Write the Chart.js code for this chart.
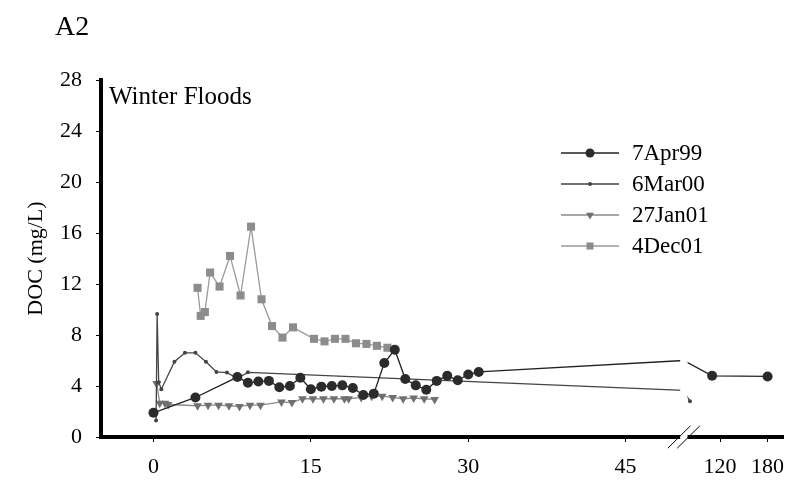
<!DOCTYPE html>
<html>
<head>
<meta charset="utf-8">
<title>DOC - Winter Floods</title>
<script src="https://cdn.jsdelivr.net/npm/chart.js@4.4.1/dist/chart.umd.min.js"></script>
<style>
    html, body { margin: 0; padding: 0; background: #fff; }
</style>
</head>
<body>
<canvas id="docChart" width="789" height="482"></canvas>
<script>
// days since the start of each flood, DOC in mg/L
const apr99Days = [0, 4, 8, 9, 10, 11, 12, 13, 14, 15, 16, 17, 18, 19, 20, 21, 22, 23, 24, 25, 26, 27, 28, 29, 30, 31, 74, 110, 180];
const apr99Doc = [1.9, 3.1, 4.7, 4.25, 4.35, 4.4, 3.9, 4.0, 4.65, 3.75, 3.95, 4.0, 4.05, 3.85, 3.3, 3.4, 5.8, 6.85, 4.55, 4.05, 3.7, 4.4, 4.8, 4.45, 4.9, 5.1, 6.0, 4.8, 4.75];

const mar00Days = [0.25, 0.35, 0.5, 0.75, 2, 3, 4, 5, 6, 7, 8, 9, 74, 82];
const mar00Doc = [1.3, 9.65, 4.3, 3.75, 5.9, 6.6, 6.6, 5.9, 5.1, 5.05, 4.6, 5.07, 3.65, 2.8];

const jan01Days = [0.3, 0.6, 1.1, 1.4, 4.2, 5.2, 6.2, 7.2, 8.2, 9.2, 10.2, 12.2, 13.2, 14.2, 15.2, 16.2, 17.2, 18.2, 18.6, 19.8, 20.8, 21.8, 22.8, 23.8, 24.8, 25.8, 26.8];
const jan01Doc = [4.2, 2.65, 2.65, 2.55, 2.45, 2.5, 2.5, 2.45, 2.4, 2.5, 2.5, 2.75, 2.7, 3.0, 3.0, 3.0, 3.0, 3.0, 3.0, 3.1, 3.2, 3.2, 3.1, 3.0, 3.05, 3.0, 2.95];

const dec01Days = [4.2, 4.5, 4.9, 5.4, 6.3, 7.3, 8.3, 9.3, 10.3, 11.3, 12.3, 13.3, 15.3, 16.3, 17.3, 18.3, 19.3, 20.3, 21.3, 22.3];
const dec01Doc = [11.7, 9.5, 9.8, 12.9, 11.8, 14.2, 11.1, 16.5, 10.8, 8.7, 7.8, 8.6, 7.7, 7.5, 7.7, 7.7, 7.35, 7.3, 7.15, 7.0];

const xTickDays = [0, 15, 30, 45, 120, 180];
const yTicks = [0, 4, 8, 12, 16, 20, 24, 28];

// samples sitting right on the axis break are hidden behind it
const BREAK_DAY = 74;

// broken time axis: linear up to day 50, compressed after the break
function toAxis(day) {
    if (day <= 50) return day;
    return 54 + (day - 120) * 0.0755;
}

function points(days, values) {
    return days.map((d, i) => ({ x: toAxis(d), y: values[i], day: d }));
}

function radius(size) {
    return (ctx) => (ctx.raw && ctx.raw.day === BREAK_DAY ? 0 : size);
}

const serif = 'Liberation Serif, Times New Roman, serif';

const datasets = [{
    label: '7Apr99',
    data: points(apr99Days, apr99Doc),
    borderColor: '#222',
    backgroundColor: '#2b2b2b',
    borderWidth: 1.3,
    pointStyle: 'circle',
    pointRadius: radius(5),
    pointBorderWidth: 0
}, {
    label: '6Mar00',
    data: points(mar00Days, mar00Doc),
    borderColor: '#444',
    backgroundColor: '#444',
    borderWidth: 1.3,
    pointStyle: 'circle',
    pointRadius: radius(2),
    pointBorderWidth: 0
}, {
    label: '27Jan01',
    data: points(jan01Days, jan01Doc),
    borderColor: '#8a8a8a',
    backgroundColor: '#707070',
    borderWidth: 1.3,
    pointStyle: 'triangle',
    pointRotation: 180,
    pointRadius: radius(5),
    pointBorderWidth: 0
}, {
    label: '4Dec01',
    data: points(dec01Days, dec01Doc),
    borderColor: '#9a9a9a',
    backgroundColor: '#8c8c8c',
    borderWidth: 1.3,
    pointStyle: 'rect',
    pointRadius: radius(5.7),
    pointBorderWidth: 0
}];

// panel label, in-plot caption, legend and the axis break marks
const decorations = {
    id: 'decorations',
    afterDatasetsDraw(chart) {
        const { ctx, chartArea, scales } = chart;
        const x = scales.x;

        // white gap through the plot and the axis at the break
        const gapLeft = x.getPixelForValue(50.2);
        const gapRight = x.getPixelForValue(50.9);
        ctx.save();
        ctx.fillStyle = '#fff';
        ctx.fillRect(gapLeft, chartArea.top, gapRight - gapLeft, chartArea.bottom - chartArea.top + 4);

        const mid = (gapLeft + gapRight) / 2;
        const yAxis = chartArea.bottom;
        ctx.strokeStyle = '#000';
        ctx.lineWidth = 1;
        [-4.7, 4.7].forEach((off) => {
            ctx.beginPath();
            ctx.moveTo(mid + off - 11.3, yAxis + 11.2);
            ctx.lineTo(mid + off + 11.3, yAxis - 11.2);
            ctx.stroke();
        });

        ctx.fillStyle = '#000';
        ctx.textBaseline = 'alphabetic';
        ctx.textAlign = 'left';
        ctx.font = '28px ' + serif;
        ctx.fillText('A2', 55, 35);
        ctx.font = '25px ' + serif;
        ctx.fillText('Winter Floods', 109, 104);

        // legend: short line with the marker in the middle
        ctx.font = '23px ' + serif;
        ctx.textBaseline = 'middle';
        chart.data.datasets.forEach((ds, i) => {
            const rowY = 153 + i * 31;
            ctx.strokeStyle = ds.borderColor;
            ctx.lineWidth = ds.borderWidth;
            ctx.beginPath();
            ctx.moveTo(561, rowY);
            ctx.lineTo(619, rowY);
            ctx.stroke();
            ctx.fillStyle = ds.backgroundColor;
            Chart.helpers.drawPoint(ctx, {
                pointStyle: ds.pointStyle,
                rotation: ds.pointRotation || 0,
                radius: i === 1 ? 2 : (i === 3 ? 5 : 4.5),
                borderWidth: 0
            }, 590, rowY);
            ctx.fillStyle = '#000';
            ctx.fillText(ds.label, 632, rowY + 1);
        });
        ctx.restore();
    }
};

const ctx = document.getElementById('docChart').getContext('2d');
new Chart(ctx, {
    type: 'line',
    data: { datasets },
    options: {
        responsive: false,
        animation: false,
        events: [],
        layout: { padding: { top: 80, right: 6, bottom: 0, left: 0 } },
        plugins: {
            legend: { display: false },
            tooltip: { enabled: false }
        },
        scales: {
            x: {
                type: 'linear',
                min: -5,
                max: 60,
                afterBuildTicks: (axis) => {
                    axis.ticks = xTickDays.map((d) => ({ value: toAxis(d) }));
                },
                afterFit: (axis) => {
                    axis.height = 45;
                    axis.paddingLeft = 0;
                    axis.paddingRight = 0;
                },
                ticks: {
                    callback: (value, index) => xTickDays[index],
                    autoSkip: false,
                    maxRotation: 0,
                    padding: 12,
                    color: '#000',
                    font: { family: serif, size: 22 }
                },
                grid: {
                    drawOnChartArea: false,
                    drawTicks: true,
                    tickLength: 5,
                    tickWidth: 1,
                    tickColor: '#000'
                },
                border: { display: true, width: 4, color: '#000' }
            },
            y: {
                min: 0,
                max: 28,
                afterBuildTicks: (axis) => {
                    axis.ticks = yTicks.map((v) => ({ value: v }));
                },
                afterFit: (axis) => {
                    axis.width = 101;
                    axis.paddingTop = 0;
                    axis.paddingBottom = 0;
                },
                ticks: {
                    padding: 14,
                    color: '#000',
                    font: { family: serif, size: 22 }
                },
                title: {
                    display: true,
                    text: 'DOC (mg/L)',
                    color: '#000',
                    font: { family: serif, size: 22 },
                    padding: { top: 23, bottom: 0 }
                },
                grid: {
                    drawOnChartArea: false,
                    drawTicks: true,
                    tickLength: 5,
                    tickWidth: 1,
                    tickColor: '#000'
                },
                border: { display: true, width: 4, color: '#000' }
            }
        }
    },
    plugins: [decorations]
});
</script>
</body>
</html>
